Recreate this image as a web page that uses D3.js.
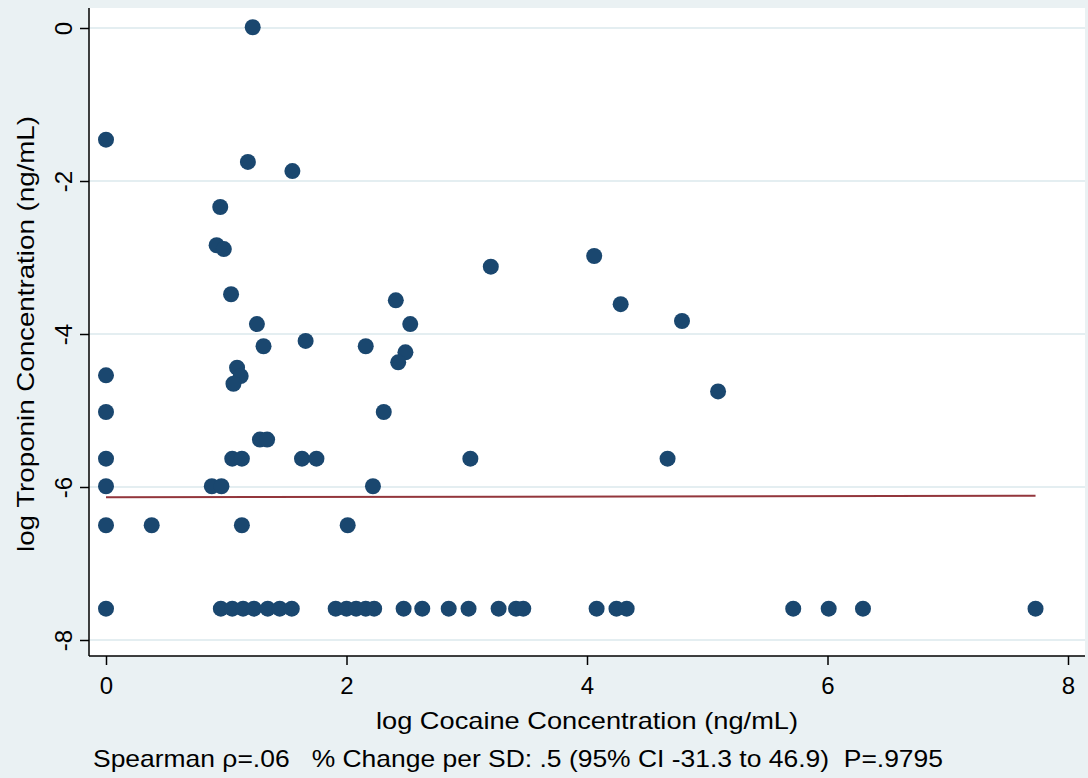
<!DOCTYPE html>
<html lang="en">
<head>
<meta charset="UTF-8">
<title>Troponin vs cocaine</title>
<style>
  body { margin: 0; background: #eaf1f3; }
  svg { display: block; font-family: "Liberation Sans", Arial, sans-serif; }
  .grid line { stroke: #e4eef1; stroke-width: 2px; }
  .note { white-space: pre; }
</style>
</head>
<body>
<svg width="1088" height="778"></svg>
<script src="https://d3js.org/d3.v7.min.js"></script>
<script>
// log cocaine (x) and log troponin (y)
var cocaine = [
  0, 0, 0, 0, 0, 0, 0.38,
  1.22, 1.18, 1.55, 0.95, 0.92, 0.98, 1.04, 1.255, 1.31, 1.66,
  1.09, 1.12, 1.06, 1.28, 1.34, 1.05, 1.13, 1.63, 1.75,
  0.88, 0.96, 1.13, 2.01, 2.22, 2.31, 2.41, 2.53, 2.16, 2.49, 2.43,
  3.20, 4.06, 4.28, 4.79, 5.09, 3.03, 4.67,
  0, 0.955, 1.05, 1.14, 1.23, 1.345, 1.445, 1.545, 1.91, 2.00, 2.08, 2.16, 2.23,
  2.475, 2.63, 2.85, 3.015, 3.265, 3.41, 3.47, 4.08, 4.245, 4.33, 5.715, 6.01, 6.295, 7.73
];
var troponin = [
  -1.46, -4.54, -5.02, -5.63, -5.99, -6.50, -6.50,
  0.01, -1.75, -1.87, -2.34, -2.84, -2.89, -3.48, -3.87, -4.16, -4.09,
  -4.44, -4.55, -4.65, -5.38, -5.38, -5.63, -5.63, -5.63, -5.63,
  -5.99, -5.99, -6.50, -6.50, -5.99, -5.02, -3.56, -3.87, -4.16, -4.24, -4.37,
  -3.12, -2.98, -3.61, -3.83, -4.75, -5.63, -5.63,
  -7.59, -7.59, -7.59, -7.59, -7.59, -7.59, -7.59, -7.59, -7.59, -7.59, -7.59, -7.59, -7.59,
  -7.59, -7.59, -7.59, -7.59, -7.59, -7.59, -7.59, -7.59, -7.59, -7.59, -7.59, -7.59, -7.59, -7.59
];
// fitted line end points
var fitX = [0, 7.73];
var fitY = [-6.135, -6.115];

var xTicks = [0, 2, 4, 6, 8];
var yTicks = [0, -2, -4, -6, -8];

var xTitle = "log Cocaine Concentration (ng/mL)";
var yTitle = "log Troponin Concentration (ng/mL)";
var note = "Spearman \u03c1=.06   % Change per SD: .5 (95% CI -31.3 to 46.9)  P=.9795";

var svg = d3.select("svg");
var plot = {left: 89, right: 1085, top: 8, bottom: 656};

var x = d3.scaleLinear().domain([0, 8]).range([106, 1068]),
    y = d3.scaleLinear().domain([0, -8]).range([28, 640]);

var plain = function(d) { return String(d); };  // hyphen minus like the original

svg.append("rect")
  .attr("x", plot.left).attr("y", plot.top)
  .attr("width", plot.right - plot.left).attr("height", plot.bottom - plot.top)
  .attr("fill", "#fff");

// horizontal grid
svg.append("g").attr("class", "grid")
  .selectAll("line").data(yTicks).enter().append("line")
    .attr("x1", plot.left).attr("x2", plot.right)
    .attr("y1", function(d) { return y(d); })
    .attr("y2", function(d) { return y(d); });

// fit line
var line = d3.line()
  .x(function(d) { return x(d[0]); })
  .y(function(d) { return y(d[1]); });

svg.append("path")
  .datum(d3.zip(fitX, fitY))
  .attr("d", line)
  .attr("fill", "none")
  .attr("stroke", "#93363c")
  .attr("stroke-width", 2);

// points
svg.append("g").selectAll("circle")
  .data(d3.zip(cocaine, troponin))
  .enter().append("circle")
    .attr("cx", function(d) { return x(d[0]); })
    .attr("cy", function(d) { return y(d[1]); })
    .attr("r", 8)
    .attr("fill", "#1a476f");

// axes
var xAxis = svg.append("g")
  .attr("transform", "translate(0," + plot.bottom + ")")
  .call(d3.axisBottom(x).tickValues(xTicks).tickSize(9).tickPadding(12).tickFormat(plain));
xAxis.select(".domain").attr("d", "M" + plot.left + ",0H" + plot.right).attr("stroke-width", 1.5);

var yAxis = svg.append("g")
  .attr("transform", "translate(" + plot.left + ",0)")
  .call(d3.axisLeft(y).tickValues(yTicks).tickSize(9).tickFormat(plain));
yAxis.select(".domain").attr("d", "M0," + plot.top + "V" + plot.bottom).attr("stroke-width", 1.5);

svg.selectAll(".tick line").attr("stroke-width", 1.5);
xAxis.selectAll("text").attr("font-size", 24).attr("fill", "#000")
  .attr("font-family", "Liberation Sans, Arial, sans-serif");
yAxis.selectAll("text")
  .attr("font-size", 24).attr("fill", "#000")
  .attr("font-family", "Liberation Sans, Arial, sans-serif")
  .attr("x", null).attr("dy", null)
  .attr("text-anchor", "middle")
  .attr("transform", "translate(-17,0) rotate(-90)");

svg.append("text")
  .attr("x", x(4)).attr("y", 729)
  .attr("text-anchor", "middle")
  .attr("font-size", 24)
  .attr("textLength", 422).attr("lengthAdjust", "spacingAndGlyphs")
  .text(xTitle);

svg.append("text")
  .attr("transform", "translate(34," + y(-4) + ") rotate(-90)")
  .attr("text-anchor", "middle")
  .attr("font-size", 24)
  .attr("textLength", 436).attr("lengthAdjust", "spacingAndGlyphs")
  .text(yTitle);

svg.append("text")
  .attr("class", "note")
  .attr("x", 518).attr("y", 767)
  .attr("text-anchor", "middle")
  .attr("font-size", 24)
  .attr("textLength", 850).attr("lengthAdjust", "spacingAndGlyphs")
  .text(note);
</script>
</body>
</html>
